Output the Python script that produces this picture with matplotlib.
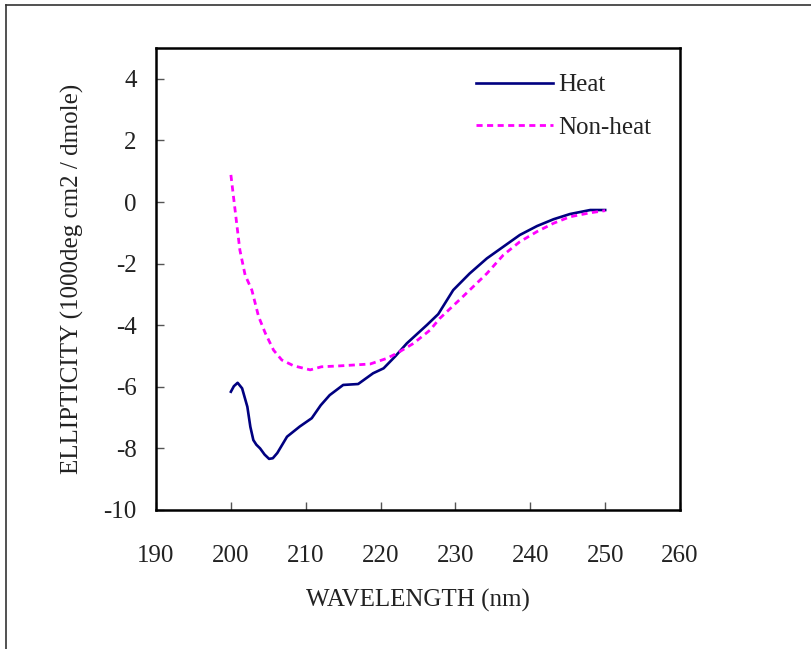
import matplotlib
matplotlib.use("Agg")
import matplotlib.pyplot as plt
from matplotlib.lines import Line2D

# Heat
heat_wl = [200, 200.4, 200.9, 201.5, 202.2, 202.6, 203.0, 203.4, 203.9, 204.5,
           205.1, 205.6, 206.2, 207.5, 209.2, 210.8, 212.0, 213.2, 215.0, 217.0,
           219.0, 220.4, 222.0, 223.5, 226.2, 227.7, 229.7, 231.9, 234.2, 236.4,
           238.6, 240.9, 243.1, 245.3, 248.0, 250.0]
heat_val = [-6.16, -5.98, -5.87, -6.05, -6.65, -7.30, -7.73, -7.88, -8.00, -8.20,
            -8.34, -8.32, -8.15, -7.62, -7.29, -7.02, -6.60, -6.27, -5.94, -5.91,
            -5.56, -5.40, -5.00, -4.59, -3.99, -3.64, -2.86, -2.32, -1.83, -1.45,
            -1.07, -0.78, -0.56, -0.39, -0.26, -0.26]

# Non-heat
nonheat_wl = [200, 200.8, 201.2, 201.9, 202.8, 203.7, 204.6, 205.7, 206.8, 208.4,
              210.6, 212.1, 214.6, 218.6, 220.8, 222.2, 224.4, 226.6, 227.9, 231.0,
              234.2, 236.4, 238.6, 240.9, 243.1, 245.3, 248.0, 250.0]
nonheat_val = [0.88, -0.75, -1.56, -2.37, -2.86, -3.72, -4.26, -4.81, -5.13, -5.32,
               -5.45, -5.35, -5.32, -5.26, -5.08, -4.91, -4.59, -4.16, -3.78, -3.07,
               -2.32, -1.72, -1.29, -0.96, -0.69, -0.48, -0.35, -0.28]

xticks = [190, 200, 210, 220, 230, 240, 250, 260]
yticks = [-10, -8, -6, -4, -2, 0, 2, 4]

plt.rcParams["font.family"] = ["Liberation Serif", "DejaVu Serif"]
plt.rcParams["axes.unicode_minus"] = False

fig = plt.figure(figsize=(8.11, 6.49), dpi=100)
ax = fig.add_axes([0.1924, 0.2142, 0.6461, 0.7118])

ax.plot(heat_wl, heat_val, color="#000080", lw=1.9, label="Heat")
ax.plot(nonheat_wl, nonheat_val, color="#ff00ff", lw=2.0, linestyle=(0, (2.2, 1.6)),
        label="Non-heat")

ax.set_xlim(190, 260)
ax.set_ylim(-10, 5)
ax.set_xticks(xticks)
ax.set_yticks(yticks)
ax.tick_params(direction="in", length=6, width=1, color="#555555", labelsize=18,
               labelcolor="#222222")
ax.tick_params(axis="x", pad=25)
ax.tick_params(axis="y", pad=14)
for s in ax.spines.values():
    s.set_linewidth(1.8)

ax.set_xlabel("WAVELENGTH (nm)", fontsize=18, color="#222222")
ax.set_ylabel("ELLIPTICITY (1000deg cm2 / dmole)", fontsize=18, color="#222222")
ax.xaxis.set_label_coords(0.5, -0.17)
ax.yaxis.set_label_coords(-0.137, 0.5)

leg = ax.legend(loc="upper left", bbox_to_anchor=(0.567, 0.993), frameon=False, fontsize=18,
                handlelength=3.1, handletextpad=0.2, labelspacing=0.8)
for t in leg.get_texts():
    t.set_color("#222222")

# outer frame (top and left edges)
fig.add_artist(Line2D([6 / 811, 6 / 811], [0, 1 - 5 / 649], color="#333333", lw=1.2))
fig.add_artist(Line2D([6 / 811, 1], [1 - 5 / 649, 1 - 5 / 649], color="#333333", lw=1.2))

fig.savefig("out.png", dpi=100)
